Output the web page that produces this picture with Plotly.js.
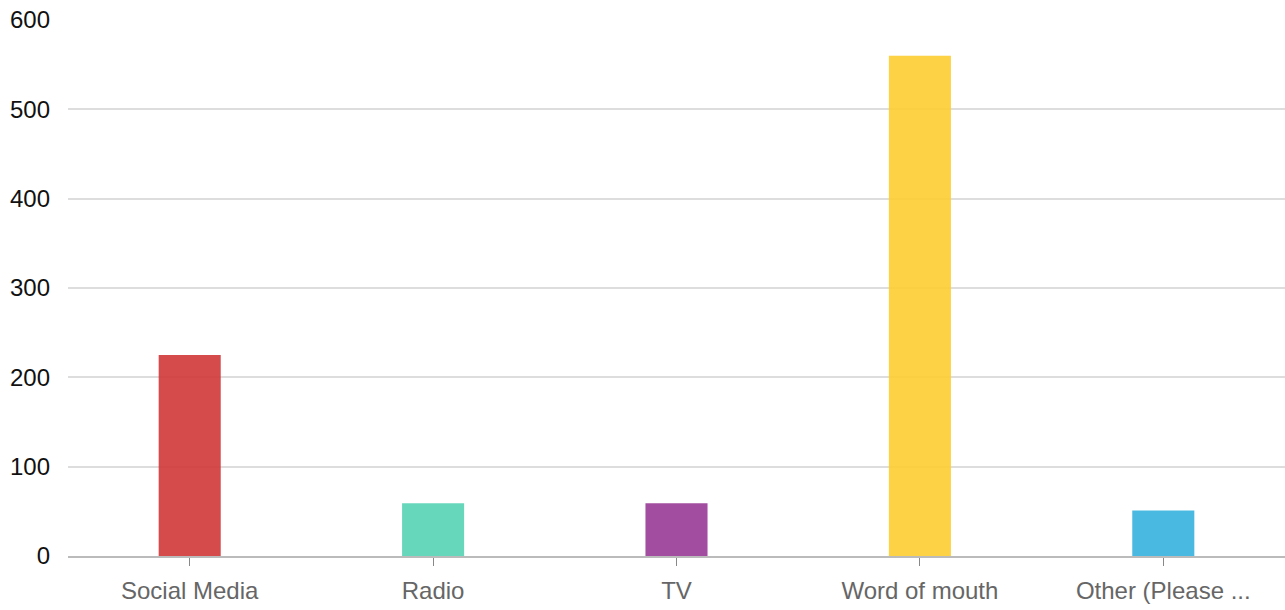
<!DOCTYPE html>
<html><head><meta charset="utf-8">
<script src="https://cdn.plot.ly/plotly-3.0.1.min.js"></script>
<style>html,body{margin:0;padding:0;background:#fff}#chart{width:1285px;height:610px}</style>
</head><body><div id="chart"></div>
<script>
const categories = ["Social Media", "Radio", "TV", "Word of mouth", "Other (Please ..."];
const values = [225, 59, 59, 560, 51];
const colors = ["#d03738", "#56d3b5", "#983a95", "#fdcd30", "#36b1de"];
const yTicks = [0, 100, 200, 300, 400, 500, 600];

Plotly.newPlot("chart", [{
  type: "bar",
  x: categories,
  y: values,
  marker: {color: colors, opacity: 0.9, line: {width: 0}},
  hoverinfo: "x+y"
}], {
  width: 1285, height: 610,
  margin: {l: 68, r: 0, t: 20, b: 54},
  paper_bgcolor: "#fff", plot_bgcolor: "#fff",
  bargap: 0.745,
  showlegend: false,
  font: {family: "Liberation Sans, Arial, sans-serif"},
  xaxis: {
    type: "category",
    showgrid: false,
    showline: true, linecolor: "#bbbbbb", linewidth: 2,
    ticks: "outside", ticklen: 8, tickcolor: "#888", tickwidth: 1,
    ticklabelstandoff: 4,
    tickfont: {size: 24, color: "#666666"},
    fixedrange: true
  },
  yaxis: {
    range: [0, 600],
    tickvals: yTicks,
    showgrid: true, gridcolor: "#dddddd", gridwidth: 2,
    zeroline: false, showline: false,
    ticks: "", ticklabelstandoff: 17,
    tickfont: {size: 24, color: "#111111"},
    fixedrange: true
  }
}, {displayModeBar: false, staticPlot: true});
</script></body></html>
